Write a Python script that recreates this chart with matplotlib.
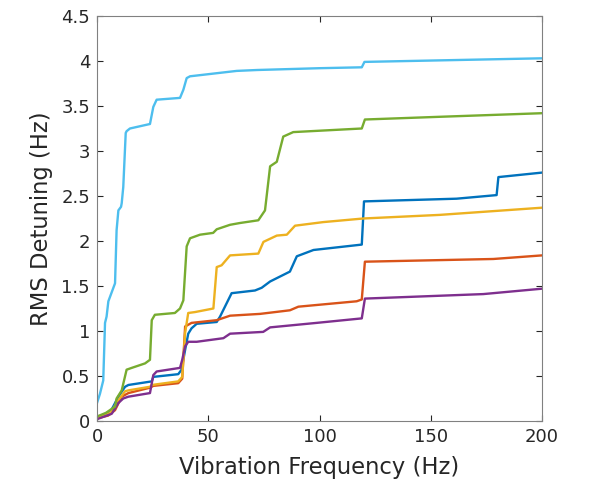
import matplotlib
matplotlib.use("Agg")
import matplotlib.pyplot as plt

# detuning curves, (frequency Hz, rms detuning Hz) pairs per trace
cyan_f = [0, 1.3, 2.8, 3.6, 4.3, 5.1, 8.1, 8.8, 9.6, 10.8, 11.1, 11.8, 12.9, 13.3, 14.8, 23.8,
          25.3, 26.8, 37.3, 38.8, 40.3, 41.8, 62.8, 72, 100, 119, 120.2, 160, 200]
cyan_v = [0.2, 0.3, 0.45, 1.09, 1.16, 1.33, 1.53, 2.12, 2.34, 2.38, 2.42, 2.6, 3.2, 3.22, 3.25, 3.3,
          3.49, 3.57, 3.59, 3.68, 3.81, 3.83, 3.89, 3.9, 3.92, 3.93, 3.99, 4.01, 4.03]

green_f = [0, 4, 8.1, 8.8, 11.1, 13.3, 15.6, 21.6, 23.8, 24.6, 26, 35, 37.3, 38.8, 40.3, 41.8,
           46.3, 52.2, 53.8, 59.8, 64.3, 72.5, 75.5, 77.8, 80.8, 83.7, 88.2, 119, 120.4, 154, 200]
green_v = [0.05, 0.09, 0.16, 0.25, 0.34, 0.57, 0.59, 0.64, 0.68, 1.12, 1.18, 1.2, 1.25, 1.34, 1.94, 2.03,
           2.07, 2.09, 2.13, 2.18, 2.2, 2.23, 2.34, 2.83, 2.88, 3.16, 3.21, 3.25, 3.35, 3.38, 3.42]

blue_f = [0, 6, 9.6, 12.6, 14.1, 24.6, 25.3, 36.5, 38, 39.6, 41, 42.5, 44.8, 53.8, 55.3, 57.5,
          60.5, 71, 74, 77.8, 86.7, 89.8, 97.3, 119, 120, 161.6, 179.6, 180.4, 200]
blue_v = [0.04, 0.1, 0.27, 0.38, 0.4, 0.44, 0.49, 0.52, 0.57, 0.79, 0.97, 1.03, 1.08, 1.1, 1.16, 1.27,
          1.42, 1.45, 1.48, 1.55, 1.66, 1.83, 1.9, 1.96, 2.44, 2.47, 2.51, 2.71, 2.76]

yellow_f = [0, 6, 9.6, 12.6, 14.1, 23.8, 24.6, 36.5, 38.3, 39.6, 41, 44, 52.3, 53.8, 56, 59.8,
            72.5, 74.8, 80.8, 85.3, 89, 101.7, 119.7, 154, 200]
yellow_v = [0.04, 0.09, 0.23, 0.33, 0.34, 0.38, 0.4, 0.44, 0.49, 0.98, 1.2, 1.21, 1.25, 1.71, 1.73, 1.84,
            1.86, 1.99, 2.06, 2.07, 2.17, 2.21, 2.25, 2.29, 2.37]

orange_f = [0, 5, 8.1, 11.1, 14.1, 23.8, 25.3, 36.5, 38.3, 39.6, 42.5, 53.8, 59.8, 73.3, 86.7,
            90.5, 116.7, 119, 120.4, 178.1, 200]
orange_v = [0.03, 0.06, 0.12, 0.27, 0.31, 0.37, 0.39, 0.42, 0.47, 1.05, 1.09, 1.12, 1.17, 1.19, 1.23,
            1.27, 1.33, 1.35, 1.77, 1.8, 1.84]

purple_f = [0, 6.6, 9.6, 11.8, 14.1, 23.8, 25.3, 26.8, 37.3, 38.3, 39.6, 41, 44.8, 56.8, 59.8,
            74.7, 77.8, 98.7, 119, 120.4, 173.6, 200]
purple_v = [0.02, 0.08, 0.2, 0.25, 0.27, 0.31, 0.51, 0.55, 0.59, 0.68, 0.83, 0.88, 0.88, 0.92, 0.97,
            0.99, 1.04, 1.09, 1.14, 1.36, 1.41, 1.47]

traces = [
    (blue_f, blue_v, "#0072BD"),
    (orange_f, orange_v, "#D95319"),
    (yellow_f, yellow_v, "#EDB120"),
    (purple_f, purple_v, "#7E2F8E"),
    (green_f, green_v, "#77AC30"),
    (cyan_f, cyan_v, "#4DBEEE"),
]

fig = plt.figure(figsize=(5.93, 4.82), dpi=100)
ax = fig.add_axes([0.1636, 0.1266, 0.914 - 0.1636, 0.9668 - 0.1266])

for f, v, c in traces:
    ax.plot(f, v, color=c, linewidth=1.7)

ax.set_xlim(0, 200)
ax.set_ylim(0, 4.5)
ax.set_xticks([0, 50, 100, 150, 200])
ax.set_yticks([0, 0.5, 1, 1.5, 2, 2.5, 3, 3.5, 4, 4.5])
ax.set_yticklabels(["0", "0.5", "1", "1.5", "2", "2.5", "3", "3.5", "4", "4.5"])

axcol = "#262626"
for s in ax.spines.values():
    s.set_color("#808080")
    s.set_linewidth(0.8)
ax.tick_params(direction="in", length=4, width=0.8, color=axcol, labelsize=13,
               labelcolor=axcol, top=True, right=True, pad=5)
ax.set_xlabel("Vibration Frequency (Hz)", fontsize=16.3, color=axcol, labelpad=7)
ax.set_ylabel("RMS Detuning (Hz)", fontsize=16.3, color=axcol, labelpad=6)

fig.savefig("out.png", dpi=100)
